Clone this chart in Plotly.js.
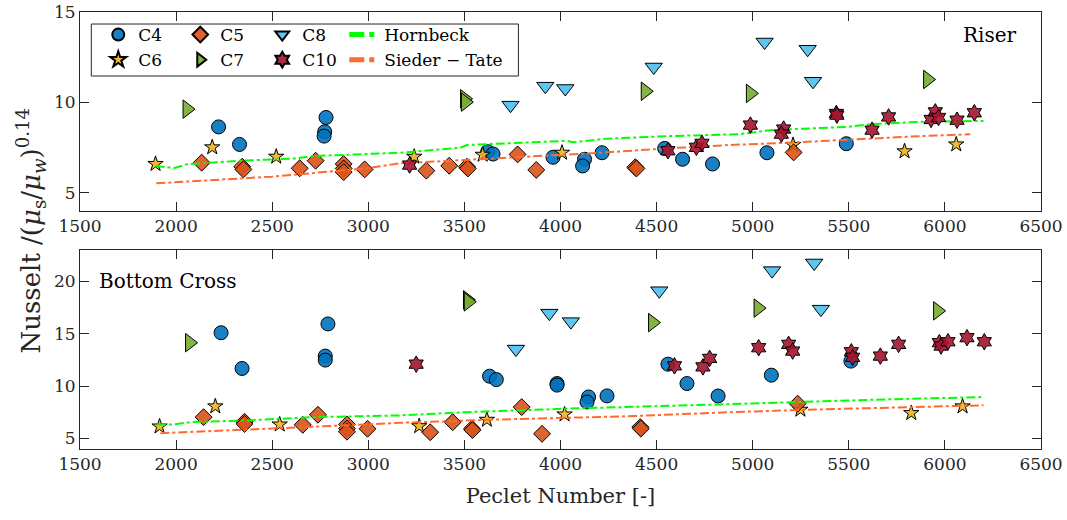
<!DOCTYPE html>
<html>
<head>
<meta charset="utf-8">
<script src="https://cdn.plot.ly/plotly-3.0.1.min.js"></script>
<style>html,body{margin:0;padding:0;background:#fff;}#chart{width:1067px;height:520px;}</style>
</head>
<body>
<div id="chart"></div>
<script>
// ---------- Riser (top panel) ----------
const c4RiserX = [2221, 2330, 2780, 2773, 2770, 3621, 3649, 3961, 4125, 4115, 4216, 4542, 4635, 4791, 5074, 5487];
const c4RiserY = [8.65, 7.68, 9.17, 8.38, 8.14, 7.28, 7.15, 6.97, 6.86, 6.49, 7.22, 7.46, 6.86, 6.60, 7.22, 7.72];
const c5RiserX = [2133, 2344, 2350, 2643, 2726, 2872, 2872, 2872, 2981, 3302, 3421, 3513, 3518, 3777, 3874, 4389, 4395, 5213];
const c5RiserY = [6.67, 6.45, 6.30, 6.36, 6.78, 6.60, 6.35, 6.15, 6.30, 6.23, 6.50, 6.45, 6.35, 7.13, 6.27, 6.42, 6.35, 7.24];
const c6RiserX = [1893, 2188, 2521, 3239, 3595, 4008, 5210, 5790, 6059];
const c6RiserY = [6.60, 7.52, 7.00, 7.00, 7.11, 7.22, 7.65, 7.30, 7.68];
const c7RiserX = [2057, 3501, 3505, 4441, 4988, 5910];
const c7RiserY = [9.63, 10.20, 10.02, 10.62, 10.50, 11.27];
const c8RiserX = [3740, 3921, 4025, 4485, 5062, 5286, 5314];
const c8RiserY = [9.85, 10.90, 10.77, 11.96, 13.34, 12.94, 11.17];
const c10RiserX = [3215, 4559, 4707, 4736, 4988, 5161, 5149, 5435, 5438, 5621, 5707, 5928, 5950, 5967, 6063, 6153];
const c10RiserY = [6.54, 7.33, 7.52, 7.74, 8.75, 8.53, 8.25, 9.39, 9.30, 8.47, 9.20, 9.06, 9.48, 9.17, 9.02, 9.43];
const hornRiserX = [1893, 1992, 2056, 2334, 2629, 2714, 3166, 3479, 3513, 4034, 4067, 4242, 4554, 4884, 4935, 5091, 5490, 5612, 5872, 6201];
const hornRiserY = [6.49, 6.38, 6.58, 6.78, 6.91, 7.04, 7.22, 7.50, 7.65, 7.88, 7.80, 8.00, 8.14, 8.25, 8.25, 8.47, 8.65, 8.80, 8.93, 8.98];
const stRiserX = [1897, 2499, 2993, 3166, 3340, 3687, 4207, 4554, 4884, 5179, 5525, 5872, 6132];
const stRiserY = [5.53, 5.90, 6.36, 6.64, 6.73, 6.91, 7.22, 7.46, 7.65, 7.77, 7.96, 8.14, 8.24];

// ---------- Bottom Cross (bottom panel) ----------
const c4BottomX = [2234, 2343, 2790, 2776, 2776, 3631, 3666, 3982, 3982, 4146, 4138, 4242, 4559, 4658, 4820, 5097, 5511];
const c4BottomY = [15.10, 11.69, 15.94, 12.87, 12.49, 10.95, 10.63, 10.25, 10.10, 8.97, 8.49, 9.07, 12.10, 10.25, 9.06, 11.05, 12.39];
const c5BottomX = [2143, 2356, 2356, 2659, 2738, 2889, 2889, 2889, 2996, 3322, 3439, 3539, 3542, 3798, 3904, 4415, 4418, 5234];
const c5BottomY = [7.04, 6.60, 6.40, 6.31, 7.27, 6.35, 5.95, 5.65, 5.93, 5.60, 6.56, 5.93, 5.80, 8.00, 5.45, 6.09, 5.95, 8.33];
const c6BottomX = [1914, 2204, 2539, 3265, 3617, 4021, 5248, 5825, 6092];
const c6BottomY = [6.15, 8.07, 6.34, 6.18, 6.79, 7.30, 7.75, 7.43, 8.07];
const c7BottomX = [2070, 3516, 3520, 4479, 5028, 5962];
const c7BottomY = [14.15, 18.24, 18.05, 16.07, 17.45, 17.19];
const c8BottomX = [3768, 3942, 4054, 4514, 5101, 5320, 5355];
const c8BottomY = [13.54, 16.97, 16.16, 19.11, 21.03, 21.76, 17.35];
const c10BottomX = [3249, 4593, 4741, 4776, 5031, 5187, 5208, 5513, 5520, 5664, 5759, 5971, 5980, 6016, 6115, 6205];
const c10BottomY = [12.10, 11.94, 11.84, 12.65, 13.67, 13.99, 13.35, 13.28, 12.75, 12.87, 13.99, 14.15, 13.83, 14.24, 14.63, 14.24];
const hornBottomX = [1900, 1987, 2074, 2369, 2715, 3166, 3513, 4034, 4831, 5179, 5699, 6201];
const hornBottomY = [6.34, 6.34, 6.56, 6.73, 7.04, 7.21, 7.52, 7.85, 8.26, 8.48, 8.74, 8.96];
const stBottomX = [1918, 2369, 2993, 3166, 3687, 4380, 4884, 5352, 6201];
const stBottomY = [5.51, 5.83, 6.34, 6.50, 6.82, 7.14, 7.52, 7.78, 8.17];

const seriesNames = ['C4', 'C5', 'C6', 'C7', 'C8', 'C10', 'Hornbeck', 'Sieder \u2212 Tate'];
const xTicks = [1500, 2000, 2500, 3000, 3500, 4000, 4500, 5000, 5500, 6000, 6500];
const yTicksTop = [5, 10, 15];
const yTicksBottom = [5, 10, 15, 20];

// ---------- styles ----------
const FONT = 'DejaVu Serif';
const AX = '#262626';
const edge = {color: '#000', width: 1};
const mk = {
  C4: {symbol: 'circle', size: 14, color: 'rgba(0,114,189,0.9)', line: edge},
  C5: {symbol: 'diamond', size: 13, color: 'rgba(217,83,25,0.9)', line: edge},
  C6: {symbol: 'star', size: 11.5, color: 'rgba(237,177,32,0.9)', line: edge},
  C7: {symbol: 'triangle-right', size: 16, color: 'rgba(119,172,48,0.9)', line: edge},
  C8: {symbol: 'triangle-down', size: 15, color: 'rgba(77,190,238,0.9)', line: edge},
  C10: {symbol: 'hexagram', size: 12.5, color: 'rgba(162,20,47,0.9)', line: edge}
};
const groupOf = {C4: 'g1', C6: 'g1', C5: 'g2', C7: 'g2', C8: 'g3', C10: 'g3', Hornbeck: 'g4', ST: 'g4'};

function pts(key, name, x, y, top) {
  return {type: 'scatter', mode: 'markers', x: x, y: y, name: name,
    xaxis: top ? 'x' : 'x2', yaxis: top ? 'y' : 'y2',
    legendgroup: groupOf[key], showlegend: top, marker: mk[key], hoverinfo: 'x+y'};
}
function ln(key, name, x, y, color, top) {
  return {type: 'scatter', mode: 'lines', x: x, y: y, name: name,
    xaxis: top ? 'x' : 'x2', yaxis: top ? 'y' : 'y2',
    legendgroup: groupOf[key], showlegend: top, legendwidth: 130,
    line: {color: color, width: 2, dash: 'dashdot'}};
}
const GREEN = '#00ff00', ORANGE = '#ff6a30';

const data = [
  pts('C4', seriesNames[0], c4RiserX, c4RiserY, true),
  pts('C6', seriesNames[2], c6RiserX, c6RiserY, true),
  pts('C5', seriesNames[1], c5RiserX, c5RiserY, true),
  pts('C7', seriesNames[3], c7RiserX, c7RiserY, true),
  pts('C8', seriesNames[4], c8RiserX, c8RiserY, true),
  ln('Hornbeck', seriesNames[6], hornRiserX, hornRiserY, GREEN, true),
  ln('ST', seriesNames[7], stRiserX, stRiserY, ORANGE, true),
  pts('C10', seriesNames[5], c10RiserX, c10RiserY, true),

  pts('C4', seriesNames[0], c4BottomX, c4BottomY, false),
  pts('C6', seriesNames[2], c6BottomX, c6BottomY, false),
  pts('C5', seriesNames[1], c5BottomX, c5BottomY, false),
  pts('C7', seriesNames[3], c7BottomX, c7BottomY, false),
  pts('C8', seriesNames[4], c8BottomX, c8BottomY, false),
  ln('Hornbeck', seriesNames[6], hornBottomX, hornBottomY, GREEN, false),
  ln('ST', seriesNames[7], stBottomX, stBottomY, ORANGE, false),
  pts('C10', seriesNames[5], c10BottomX, c10BottomY, false)
];

const xAxisBase = {
  range: [1500, 6500], tickvals: xTicks, ticks: 'inside', ticklen: 9, tickcolor: AX,
  showline: true, linecolor: AX, linewidth: 1, mirror: 'ticks', showgrid: false, zeroline: false,
  tickfont: {family: FONT, size: 17, color: AX}
};
const yAxisBase = {
  ticks: 'inside', ticklen: 9, tickcolor: AX, showline: true, linecolor: AX, linewidth: 1,
  mirror: 'ticks', showgrid: false, zeroline: false, tickfont: {family: FONT, size: 17, color: AX}
};

const layout = {
  width: 1067, height: 520,
  margin: {l: 80, r: 26, t: 12, b: 71},
  paper_bgcolor: '#fff', plot_bgcolor: '#fff',
  font: {family: FONT, color: AX},
  xaxis: Object.assign({}, xAxisBase, {anchor: 'y', domain: [0, 1]}),
  yaxis: Object.assign({}, yAxisBase, {anchor: 'x', domain: [0.5446, 1], range: [4, 15], tickvals: yTicksTop}),
  xaxis2: Object.assign({}, xAxisBase, {anchor: 'y2', domain: [0, 1],
    title: {text: 'Peclet Number [-]', font: {family: FONT, size: 21, color: AX}, standoff: 14}}),
  yaxis2: Object.assign({}, yAxisBase, {anchor: 'x2', domain: [0, 0.4554], range: [4, 23], tickvals: yTicksBottom}),
  showlegend: true,
  legend: {
    orientation: 'h', traceorder: 'grouped', x: 0.019, y: 0.9885, xanchor: 'left', yanchor: 'top',
    bgcolor: 'rgba(0,0,0,0)', borderwidth: 0, entrywidth: 37, entrywidthmode: 'pixels',
    itemsizing: 'constant', font: {family: FONT, size: 17, color: '#000'}
  },
  shapes: [{type: 'rect', xref: 'paper', yref: 'paper', x0: 0.01175, x1: 0.4562, y0: 0.8535, y1: 0.9725,
    line: {color: AX, width: 1}, fillcolor: '#fff', layer: 'below'}],
  annotations: [
    {xref: 'paper', yref: 'paper', x: 0.947, y: 0.9485, text: 'Riser', showarrow: false,
      xanchor: 'center', yanchor: 'middle', font: {family: FONT, size: 20, color: '#000'}},
    {xref: 'paper', yref: 'paper', x: 0.0918, y: 0.3849, text: 'Bottom Cross', showarrow: false,
      xanchor: 'center', yanchor: 'middle', font: {family: FONT, size: 20, color: '#000'}},
    {xref: 'paper', yref: 'paper', x: -0.051, y: 0.50, textangle: -90, showarrow: false,
      xanchor: 'center', yanchor: 'middle',
      text: 'Nusselt /(<i>\u03bc</i><sub>s</sub>/<i>\u03bc<sub>w</sub></i>)<sup>0.14</sup>',
      font: {family: FONT, size: 26, color: AX}}
  ]
};

Plotly.newPlot('chart', data, layout, {staticPlot: true, displayModeBar: false});
</script>
</body>
</html>
